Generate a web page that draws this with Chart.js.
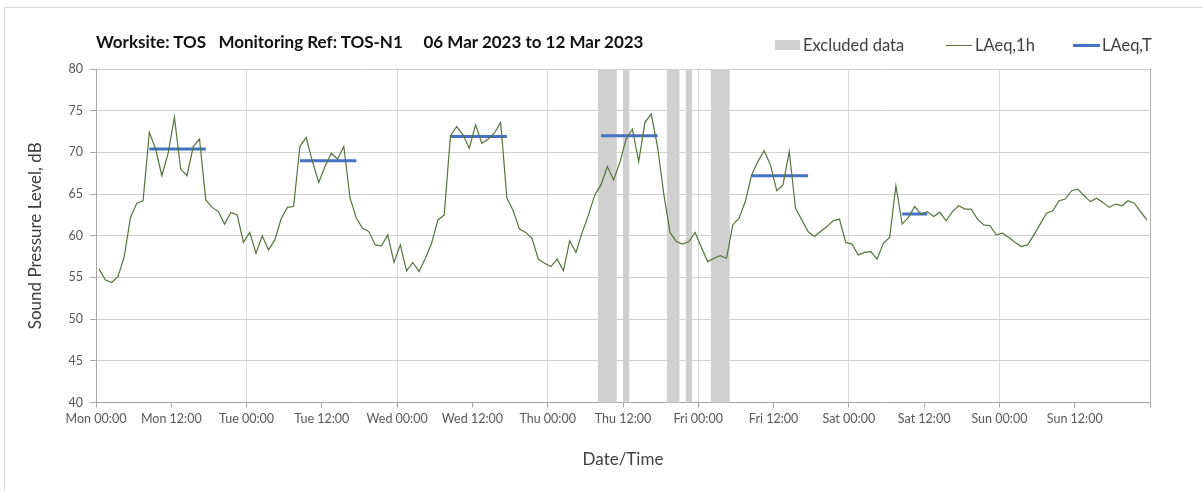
<!DOCTYPE html>
<html>
<head>
<meta charset="utf-8">
<title>TOS-N1 noise monitoring</title>
<script src="https://cdn.jsdelivr.net/npm/chart.js@4/dist/chart.umd.min.js"></script>
<style>
    body { margin: 0; background: #fff; font-family: 'Lato', 'DejaVu Sans', sans-serif; }
    #wrap { position: relative; width: 1203px; height: 491px; overflow: hidden; }
    #frame { position: absolute; left: 4px; top: 7px; right: -10px; bottom: -10px; border: 1px solid #d9d9d9; }
    #chartTitle { position: absolute; left: 96px; top: 31px; font-size: 17px; font-weight: bold; color: #111; white-space: pre; }
    .lg { position: absolute; font-size: 16.5px; color: #404040; white-space: nowrap; line-height: 20px; top: 35px; }
    .lg-swatch { position: absolute; }
    canvas { position: absolute; left: 0; top: 0; }
</style>
</head>
<body>
<div id="wrap">
    <div id="frame"></div>
    <canvas id="noiseChart" width="1203" height="491"></canvas>
    <div id="chartTitle">Worksite: TOS   Monitoring Ref: TOS-N1     06 Mar 2023 to 12 Mar 2023</div>
    <!-- legend -->
    <div class="lg-swatch" style="left:775px; top:40px; width:25px; height:10px; background:#d0d0d0;"></div>
    <div class="lg" style="left:803px;">Excluded data</div>
    <div class="lg-swatch" style="left:946px; top:45px; width:26px; border-top:1px solid #56733f;"></div>
    <div class="lg" style="left:975px;">LAeq,1h</div>
    <div class="lg-swatch" style="left:1073px; top:44px; width:27px; border-top:3px solid #4472c4;"></div>
    <div class="lg" style="left:1102px;">LAeq,T</div>
</div>
<script>
    // --- Data (hourly LAeq,1h from Mon 00:00) ---
    const hourlyLevels = [
        56.0, 54.7, 54.4, 55.1, 57.5, 62.2, 63.9, 64.2, 72.4, 70.4, 67.2, 69.9,
        74.2, 68.0, 67.2, 70.7, 71.6, 64.3, 63.4, 62.9, 61.4, 62.8, 62.5, 59.2,
        60.4, 57.9, 60.0, 58.3, 59.5, 62.0, 63.4, 63.5, 70.7, 71.8, 68.9, 66.4,
        68.3, 69.9, 69.2, 70.7, 64.5, 62.1, 60.9, 60.5, 58.9, 58.8, 60.1, 56.8,
        58.9, 55.8, 56.8, 55.7, 57.3, 59.1, 61.9, 62.5, 72.0, 73.1, 72.1, 70.5,
        73.3, 71.1, 71.6, 72.3, 73.6, 64.5, 63.0, 60.8, 60.4, 59.7, 57.2, 56.7,
        56.3, 57.2, 55.8, 59.4, 58.0, 60.4, 62.5, 64.9, 66.1, 68.3, 66.7, 68.8,
        71.6, 72.8, 68.9, 73.6, 74.6, 70.7, 65.0, 60.4, 59.3, 59.0, 59.3, 60.4,
        58.6, 56.9, 57.3, 57.6, 57.3, 61.3, 62.1, 64.1, 67.3, 68.9, 70.2, 68.5,
        65.4, 66.1, 70.1, 63.3, 61.9, 60.5, 59.9, 60.5, 61.1, 61.8, 62.0, 59.2,
        59.0, 57.7, 58.0, 58.1, 57.2, 59.1, 59.8, 66.0, 61.4, 62.2, 63.5, 62.6,
        62.9, 62.3, 62.8, 61.8, 62.9, 63.6, 63.2, 63.2, 62.0, 61.3, 61.2, 60.1,
        60.3, 59.8, 59.2, 58.7, 58.9, 60.1, 61.4, 62.7, 63.0, 64.2, 64.4, 65.4,
        65.6, 64.8, 64.1, 64.5, 64.0, 63.4, 63.8, 63.6, 64.2, 63.9, 62.9, 61.9
    ];

    // LAeq,T over the daytime periods (hour index of first/last hourly value)
    const periodStart = [8, 32, 56, 80, 104, 128];
    const periodEnd   = [17, 41, 65, 89, 113, 132];
    const periodLevel = [70.4, 69.0, 71.9, 72.0, 67.2, 62.6];

    // Excluded data windows, in hours from Mon 00:00
    const excludedStart = [80, 84, 91, 94, 98];
    const excludedEnd   = [83, 85, 93, 95, 101];

    const tickLabels = [
        'Mon 00:00', 'Mon 12:00', 'Tue 00:00', 'Tue 12:00', 'Wed 00:00', 'Wed 12:00', 'Thu 00:00',
        'Thu 12:00', 'Fri 00:00', 'Fri 12:00', 'Sat 00:00', 'Sat 12:00', 'Sun 00:00', 'Sun 12:00'
    ];

    // hourly values sit in the middle of their hour
    const hourlyPoints = hourlyLevels.map((v, i) => ({ x: i + 0.5, y: v }));

    const periodPoints = [];
    periodStart.forEach((s, k) => {
        periodPoints.push({ x: s + 0.5, y: periodLevel[k] });
        periodPoints.push({ x: periodEnd[k] + 0.5, y: periodLevel[k] });
        periodPoints.push({ x: periodEnd[k] + 0.5, y: null });
    });

    // grey bands behind the lines for excluded periods
    const excludedBands = {
        id: 'excludedBands',
        beforeDatasetsDraw(chart) {
            const { ctx, chartArea, scales } = chart;
            ctx.save();
            ctx.fillStyle = '#d0d0d0';
            excludedStart.forEach((s, k) => {
                const x0 = scales.x.getPixelForValue(s);
                const x1 = scales.x.getPixelForValue(excludedEnd[k]);
                ctx.fillRect(x0, chartArea.top, x1 - x0, chartArea.bottom - chartArea.top);
            });
            ctx.restore();
        }
    };

    const tickFont = { family: 'Lato', size: 12.5 };

    const ctx = document.getElementById('noiseChart').getContext('2d');
    const noiseChart = new Chart(ctx, {
        type: 'line',
        data: {
            datasets: [
                {
                    label: 'LAeq,1h',
                    data: hourlyPoints,
                    borderColor: '#56733f',
                    borderWidth: 1.2,
                    pointRadius: 0,
                    tension: 0
                },
                {
                    label: 'LAeq,T',
                    data: periodPoints,
                    borderColor: '#4472c4',
                    borderWidth: 3,
                    pointRadius: 0,
                    spanGaps: false
                }
            ]
        },
        options: {
            responsive: false,
            animation: false,
            layout: { padding: { top: 69, right: 53, bottom: 0, left: 0 } },
            plugins: {
                legend: { display: false },
                tooltip: { enabled: false }
            },
            scales: {
                x: {
                    type: 'linear',
                    min: 0,
                    max: 168,
                    afterFit: (scale) => { scale.height = 88.5; },
                    ticks: {
                        stepSize: 12,
                        autoSkip: false,
                        maxRotation: 0,
                        padding: 4,
                        color: '#595959',
                        font: tickFont,
                        callback: (value) => tickLabels[value / 12] || ''
                    },
                    grid: {
                        color: (c) => {
                            if (!c.tick) return 'rgba(0,0,0,0)';
                            if (c.tick.value === 168) return '#b3b3b3';
                            return c.tick.value % 24 === 0 ? '#dcdcdc' : 'rgba(0,0,0,0)';
                        },
                        tickColor: '#a6a6a6',
                        tickLength: 5
                    },
                    border: { color: '#a6a6a6' },
                    title: {
                        display: true,
                        text: 'Date/Time',
                        color: '#404040',
                        font: { family: 'Lato', size: 17 },
                        padding: { top: 0, bottom: 21 }
                    }
                },
                y: {
                    min: 40,
                    max: 80,
                    afterFit: (scale) => { scale.width = 96; },
                    ticks: {
                        stepSize: 5,
                        padding: 7,
                        color: '#595959',
                        font: tickFont
                    },
                    grid: {
                        color: '#d0d0d0',
                        tickColor: '#a6a6a6',
                        tickLength: 6
                    },
                    border: { color: '#a6a6a6' },
                    title: {
                        display: true,
                        text: 'Sound Pressure Level, dB',
                        color: '#404040',
                        font: { family: 'Lato', size: 17 },
                        padding: { top: 25, bottom: 0 }
                    }
                }
            }
        },
        plugins: [excludedBands]
    });
</script>
</body>
</html>
